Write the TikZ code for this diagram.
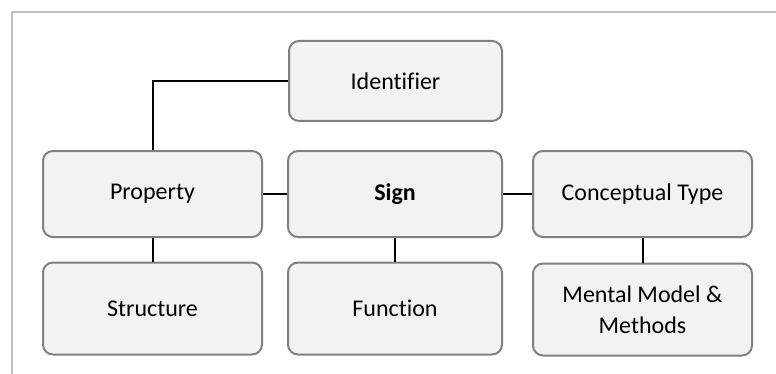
\documentclass[tikz,border=0pt]{standalone}
\usepackage{fontspec}
\setmainfont{Carlito}[Ligatures=NoCommon]
\usepackage{xcolor}
\usepackage{tikz}

\definecolor{framegray}{RGB}{192,192,192}
\definecolor{boxgray}{RGB}{128,128,128}
\definecolor{boxfill}{RGB}{242,242,242}

\tikzset{
  block/.style={rectangle,rounded corners=5pt,draw=boxgray,line width=1pt,fill=boxfill,
    align=center,font=\fontsize{12}{15.5}\selectfont},
  link/.style={line width=1pt,black}
}

\begin{document}
\begin{tikzpicture}[x=0.5pt,y=-0.5pt]
\useasboundingbox (0,0) rectangle (776,374);
\draw [framegray,line width=1pt] (12,374) -- (12,12) -- (776,12);
\node [block,minimum width=106.5pt,minimum height=40pt] (identifier) at (395.5,81) {Identifier};
\node [block,minimum width=109.5pt,minimum height=43pt] (property) at (152.5,194) {Property};
\node [block,minimum width=107pt,minimum height=43pt] (sign) at (395,194) {\textbf{Sign}};
\node [block,minimum width=109.5pt,minimum height=43pt] (concept) at (642.5,194) {Conceptual Type};
\node [block,minimum width=109.5pt,minimum height=46pt] (structure) at (152.5,308.5) {Structure};
\node [block,minimum width=107pt,minimum height=46pt] (function) at (395,308.5) {Function};
\node [block,minimum width=109.5pt,minimum height=46pt] (mental) at (642.5,309.5) {Mental Model \&\\Methods};
\draw [link] (identifier.west) -| (property.north);
\draw [link] (property) -- (sign);
\draw [link] (sign) -- (concept);
\draw [link] (property) -- (structure);
\draw [link] (sign) -- (function);
\draw [link] (concept) -- (mental);
\end{tikzpicture}
\end{document}
